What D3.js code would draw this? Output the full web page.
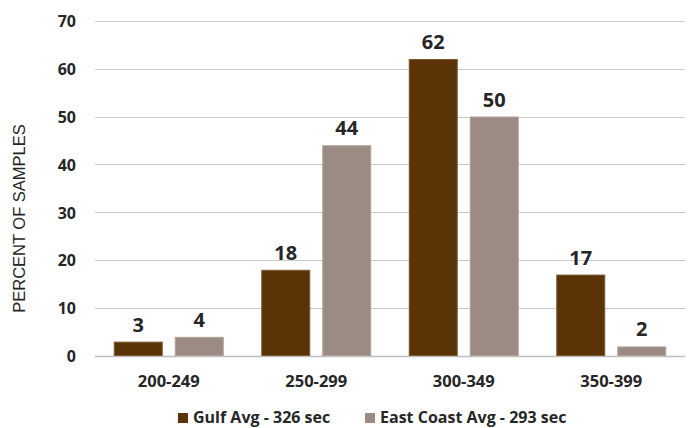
<!DOCTYPE html>
<html><head><meta charset="utf-8">
<script src="https://cdn.jsdelivr.net/npm/d3@7"></script>
<style>body{margin:0;background:#fff}svg{display:block}</style>
</head><body>
<script>
const categories = ["200-249","250-299","300-349","350-399"];
const seriesNames = ["Gulf Avg - 326 sec","East Coast Avg - 293 sec"];
const gulf = [3,18,62,17];
const eastCoast = [4,44,50,2];
const yTicks = [0,10,20,30,40,50,60,70];
const colors = ["#5a3407","#9b8b83"];
const strokes = ["#7a5a34","#b0a39c"];

const W=698,H=428;
const svg=d3.select("body").append("svg").attr("width",W).attr("height",H);
const x=d3.scaleBand().domain(categories).range([95,685]).paddingInner(0).paddingOuter(0);
const y=d3.scaleLinear().domain([0,70]).range([356,20.7]);
const bw=x.bandwidth();
const inner=d3.scaleBand().domain([0,1]).range([(bw-110)/2,(bw+110)/2]).paddingInner(2-110/61).paddingOuter(0);

// grid
svg.append("g").selectAll("line").data(yTicks).join("line")
 .attr("x1",95).attr("x2",685).attr("y1",d=>Math.round(y(d))+0.5).attr("y2",d=>Math.round(y(d))+0.5)
 .attr("stroke",d=>d===0?"#bfbfbf":"#cccccc").attr("stroke-width",d=>d===0?1.5:1.2);

// y axis labels
const ya=d3.axisLeft(y).tickValues(yTicks).tickSize(0).tickPadding(0);
const yg=svg.append("g").attr("transform","translate(76,0)").call(ya);
yg.select(".domain").remove();
yg.selectAll("text").attr("font-family","'Open Sans'").attr("font-weight","bold").attr("font-size",16).attr("fill","#262626").attr("dy","0.36em");

// x axis labels
const xa=d3.axisBottom(x).tickSize(0).tickPadding(0);
const xg=svg.append("g").attr("transform","translate(0,387)").call(xa);
xg.select(".domain").remove();
xg.selectAll("text").attr("font-family","'Open Sans'").attr("font-weight","bold").attr("font-size",16.5).attr("fill","#262626").attr("dy",0);

const series=[gulf,eastCoast];
series.forEach((vals,si)=>{
  const g=svg.append("g");
  g.selectAll("rect").data(vals).join("rect")
   .attr("x",(d,i)=>x(categories[i])+inner(si)+0.5)
   .attr("y",d=>y(d)+0.5)
   .attr("width",inner.bandwidth()-1)
   .attr("height",d=>y(0)-y(d)-1)
   .attr("fill",colors[si]).attr("stroke",strokes[si]).attr("stroke-width",1);
  g.selectAll("text").data(vals).join("text")
   .attr("x",(d,i)=>x(categories[i])+inner(si)+inner.bandwidth()/2)
   .attr("y",d=>y(d)-10)
   .attr("text-anchor","middle")
   .attr("font-family","'Open Sans'").attr("font-weight","bold").attr("font-size",20).attr("fill","#262626")
   .text(d=>d);
});

// y title
svg.append("text").attr("transform","translate(25,218.5) rotate(-90)")
 .attr("text-anchor","middle").attr("font-family","'Liberation Sans', Arial").attr("font-size",16.5).attr("fill","#262626")
 .text("PERCENT OF SAMPLES");

// legend
const leg=[{x:178,t:seriesNames[0]},{x:365,t:seriesNames[1]}];
leg.forEach((l,i)=>{
  svg.append("rect").attr("x",l.x).attr("y",413).attr("width",10).attr("height",10).attr("fill",colors[i]);
  svg.append("text").attr("x",l.x+15).attr("y",423).attr("font-family","'Open Sans'").attr("font-weight","bold").attr("font-size",16).attr("fill","#262626").text(l.t);
});
</script>
</body></html>
